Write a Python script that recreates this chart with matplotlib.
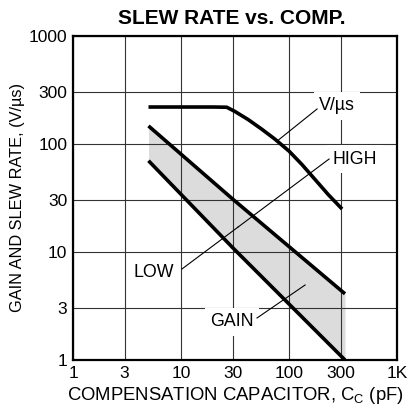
import numpy as np
import matplotlib
matplotlib.use("agg")
import matplotlib.pyplot as plt
from matplotlib.ticker import NullLocator

plt.rcParams['font.family'] = ['Liberation Sans', 'DejaVu Sans']
plt.rcParams['mathtext.fontset'] = 'custom'
plt.rcParams['mathtext.rm'] = 'Liberation Sans'

# values (log-log axes)
tick_vals = [1, 3, 10, 30, 100, 300, 1000]
x_labels = ['1', '3', '10', '30', '100', '300', '1K']
y_labels = ['1', '3', '10', '30', '100', '300', '1000']

# slew rate curve
sr_c = [5, 20, 26.5, 29, 31.6, 42, 56, 74, 100, 131, 174, 231, 310]
sr_v = [220, 220, 219, 209, 200, 168, 137, 111, 86, 65, 47, 34, 25]

# gain band edges
gain_c = [5, 30, 330]
gain_high = [147, 31, 4.1]
gain_low = [70, 11, 1.0]

fig = plt.figure(figsize=(4.09, 4.12), dpi=100)
ax = fig.add_axes([73/409, 52/412, 324/409, 324/412])
ax.set_xscale('log')
ax.set_yscale('log')
ax.set_xlim(1, 1000)
ax.set_ylim(1, 1000)

# shaded band between high and low gain
ax.fill_between(gain_c, gain_low, gain_high, color='#dcdcdc', lw=0, zorder=0.2)

ax.plot(sr_c, sr_v, color='black', lw=2.6, solid_capstyle='butt',
        solid_joinstyle='round', zorder=4)
ax.plot(gain_c, gain_high, color='black', lw=2.6, solid_capstyle='butt', zorder=4)
ax.plot(gain_c, gain_low, color='black', lw=2.6, solid_capstyle='butt', zorder=4)

ax.set_xticks(tick_vals)
ax.set_xticklabels(x_labels)
ax.set_yticks(tick_vals)
ax.set_yticklabels(y_labels)
ax.xaxis.set_minor_locator(NullLocator())
ax.yaxis.set_minor_locator(NullLocator())
ax.tick_params(length=0, labelsize=12.5, pad=4)
ax.set_axisbelow(True)
ax.grid(True, color='#333333', lw=0.8)
for s in ax.spines.values():
    s.set_linewidth(1.6)

# labels with white boxes that break the grid
box = dict(facecolor='white', edgecolor='none', pad=4)
ax.text(190, 225, 'V/\u00b5s', fontsize=12.8, ha='left', va='center', bbox=box, zorder=2.5)
ax.text(255, 72.6, 'HIGH', fontsize=12.8, ha='left', va='center', bbox=box, zorder=2.5)
ax.text(3.6, 6.5, 'LOW', fontsize=12.8, ha='left', va='center', bbox=box, zorder=2.5)
ax.text(18.6, 2.25, 'GAIN', fontsize=12.8, ha='left', va='center', bbox=box, zorder=2.5)

# leader lines
lk = dict(color='black', lw=0.8, zorder=3)
ax.plot([182, 79], [211, 108], **lk)
ax.plot([235, 33.7], [72.6, 17.0], **lk)
ax.plot([10.2, 33.7], [6.96, 17.0], **lk)
ax.plot([50.6, 141], [2.45, 4.95], **lk)

ax.set_xlabel('COMPENSATION CAPACITOR, C$_\\mathregular{C}$ (pF)', fontsize=13.3, labelpad=3)
ax.set_ylabel('GAIN AND SLEW RATE, (V/\u00b5s)', fontsize=11.8, labelpad=3)
fig.text(232/409, 1 - 19/412, 'SLEW RATE vs. COMP.', fontsize=15, fontweight='bold',
         ha='center', va='center')

fig.savefig('out.png', dpi=100)
